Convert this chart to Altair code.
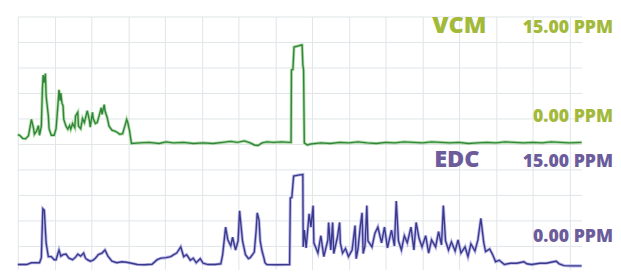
import altair as alt
import pandas as pd

# time axis in minutes (grid every 10), values in ppm
vcm_t = [0.0, 0.5, 1.3, 2.1, 2.9, 3.7, 4.3, 4.5, 5.1, 5.6, 5.9, 6.4, 6.7, 6.9, 7.2, 7.5, 7.7, 8.3, 8.5, 9.1,
         9.9, 10.4, 10.9, 11.2, 11.5, 11.7, 12.0, 12.3, 12.5, 13.1, 13.6, 14.1, 14.4, 14.9, 15.5, 15.7, 16.3, 16.5,
         17.1, 17.6, 18.1, 18.7, 18.9, 19.5, 19.7, 20.3, 20.5, 21.1, 21.6, 22.1, 22.7, 22.9, 23.5, 23.7, 24.3,
         24.8, 25.6, 26.4, 27.2, 27.7, 28.5, 29.1, 29.6, 29.9, 30.4, 30.7, 30.9,
         33.1, 35.7, 38.4, 40.3, 42.4, 45.1, 47.7, 50.4, 53.1, 55.7, 57.9, 59.7, 61.6, 63.2, 64.3, 65.3, 66.4,
         67.7, 69.6, 71.7, 73.9, 74.3, 74.4, 74.8, 75.1, 76.1, 77.1, 77.3, 77.5, 77.7, 77.9, 78.7, 79.7, 82.4,
         85.0, 87.5, 90.0, 92.5, 95.0, 97.5, 100.0, 102.5, 105.0, 107.5, 110.0, 112.5, 115.0, 117.5, 120.0,
         122.5, 125.0, 127.5, 130.0, 132.5, 135.0, 137.5, 140.0, 142.5, 145.0, 147.5, 150.0, 153.3]
vcm_v = [1.8, 1.7, 1.1, 1.0, 1.6, 4.8, 3.0, 1.9, 2.5, 3.6, 1.7, 3.5, 11.0, 13.5, 12.0, 13.8, 9.4, 5.5, 3.0, 1.7,
         1.7, 3.0, 7.5, 10.6, 8.5, 10.0, 8.0, 7.5, 4.8, 3.5, 2.9, 3.6, 2.9, 4.0, 3.2, 5.5, 6.2, 3.5,
         3.0, 5.0, 4.2, 6.0, 6.5, 4.5, 3.3, 6.2, 5.0, 4.0, 4.2, 5.5, 7.1, 5.8, 7.7, 6.5, 5.2,
         3.5, 2.7, 2.5, 2.2, 1.9, 2.0, 3.5, 4.8, 4.2, 2.5, 1.0, 0.1,
         0.2, 0.3, 0.1, 0.4, 0.2, 0.3, 0.1, 0.2, 0.1, 0.3, 0.5, 0.3, 0.6, 0.2, -0.2, -0.3, 0.2,
         0.4, 0.3, 0.4, 0.3, 0.3, 14.5, 14.6, 19.0, 19.2, 19.4, 19.4, 15.5, 14.5, 0.2, -0.2, 0.0, 0.2,
         0.1, 0.3, 0.2, 0.4, 0.2, 0.1, 0.3, 0.2, 0.4, 0.3, 0.2, 0.4, 0.3, 0.2, 0.3,
         0.1, 0.2, 0.3, 0.2, 0.4, 0.3, 0.2, 0.3, 0.2, 0.4, 0.3, 0.2, 0.3]

edc_t = [0.0, 0.5, 2.4, 3.7, 5.9, 6.4, 6.8, 7.2, 7.7, 8.3, 9.1, 9.9, 10.4, 11.2, 11.7, 12.3, 13.1, 13.9, 14.9,
         15.7, 16.3, 17.1, 17.9, 18.4, 18.9, 19.7, 20.5, 21.1, 21.9, 22.9, 23.7, 24.5, 25.6, 26.9, 28.3, 29.6,
         30.9, 32.5, 34.4, 36.5, 37.9, 38.9, 40.3, 41.6, 42.4, 43.2, 44.3, 45.1, 45.9, 46.9, 47.7, 48.5, 49.6,
         50.4, 51.7, 53.6, 55.2, 55.7, 56.5, 57.1, 57.9, 58.4, 59.2, 59.9, 60.3, 61.1, 61.9, 62.7, 63.2, 64.3,
         64.8, 65.1, 65.6, 65.9, 66.4, 66.9, 67.2, 67.7, 70.4, 73.9, 74.1, 74.5, 75.0, 76.3, 77.5, 77.6, 77.9,
         78.4, 79.2, 79.7, 80.3, 80.5, 81.6, 82.4, 83.2, 84.3, 84.5, 85.1, 85.6, 85.9, 86.9, 87.5, 87.7, 88.3,
         89.1, 89.9, 90.9, 91.7, 92.0, 92.5, 93.1, 93.6, 93.9, 94.4, 94.9, 95.2, 96.3, 97.1, 97.9, 98.9, 99.7,
         100.5, 101.6, 102.4, 102.9, 103.5, 104.3, 105.1, 105.9, 106.9, 107.7, 108.3, 109.1, 109.9, 110.9,
         111.7, 112.5, 113.6, 114.4, 115.2, 115.7, 116.3, 117.1, 117.9, 118.9, 119.7, 120.5, 121.6, 122.4,
         123.2, 124.3, 125.1, 125.9, 126.7, 127.2, 128.3, 129.1, 129.9, 130.9, 132.3, 133.9, 135.7, 137.6,
         138.4, 139.7, 141.9, 143.7, 145.6, 146.4, 147.2, 148.5, 150.4, 153.3]
edc_v = [1.35, 1.35, 1.35, 1.7, 1.7, 2.7, 12.3, 12.0, 5.6, 2.9, 2.9, 2.3, 2.3, 4.2, 3.0, 3.3, 3.4, 2.6, 2.3,
         2.8, 3.4, 3.0, 3.6, 2.6, 2.3, 2.0, 2.2, 2.6, 3.3, 3.6, 4.2, 3.0, 2.0, 1.7, 1.9, 1.8,
         1.6, 1.35, 1.3, 1.4, 2.3, 2.6, 2.7, 2.9, 3.3, 3.6, 4.8, 2.9, 3.3, 2.2, 2.6, 1.7, 2.5,
         1.6, 1.35, 1.35, 1.5, 3.3, 8.7, 6.2, 5.0, 6.7, 4.2, 6.0, 11.9, 6.0, 3.3, 2.5, 2.7, 3.8,
         8.0, 11.5, 10.0, 6.0, 4.0, 2.7, 1.7, 1.35, 1.3, 1.35, 14.4, 14.5, 18.7, 18.9, 19.0, 4.8, 8.1,
         4.6, 11.3, 8.7, 12.9, 5.6, 3.6, 7.0, 2.9, 6.2, 9.6, 4.2, 9.6, 3.5, 6.7, 9.6, 5.6, 3.6,
         4.5, 2.9, 4.2, 9.0, 2.5, 4.4, 8.7, 11.5, 3.5, 5.0, 12.9, 6.0, 4.8, 7.5, 8.7, 5.6, 8.7,
         4.6, 8.1, 5.0, 13.8, 6.0, 4.2, 7.0, 5.6, 8.7, 4.2, 9.6, 6.5, 4.8, 7.0,
         3.6, 6.2, 4.8, 7.8, 5.2, 12.9, 6.0, 4.2, 5.8, 4.0, 6.2, 3.6, 4.8, 2.9,
         5.4, 4.0, 6.2, 10.4, 5.6, 3.9, 4.4, 3.3, 1.9, 2.2, 1.35, 1.6, 1.6, 1.9,
         1.5, 1.35, 1.6, 1.6, 1.9, 2.0, 1.5, 1.15, 1.1, 1.1]

grid_ticks_x = [0, 10, 20, 30, 40, 50, 60, 70, 80, 90, 100, 110, 120, 130, 140, 150]
grid_ticks_y = [5, 10, 15, 20, 25, 30, 35, 40, 45, 50]

vcm = pd.DataFrame({"t": vcm_t, "ppm": vcm_v})
edc = pd.DataFrame({"t": edc_t, "ppm": edc_v})

xs = alt.X("t:Q", scale=alt.Scale(domain=[0, 153.3], nice=False, zero=False),
           axis=alt.Axis(values=grid_ticks_x, grid=True, labels=False, ticks=False, domain=False,
                         title=None, gridColor="#dfe4e8", gridWidth=1))

y_edc = alt.Y("ppm:Q", scale=alt.Scale(domain=[0.385, 50], nice=False, zero=False),
              axis=alt.Axis(values=grid_ticks_y, grid=True, labels=False, ticks=False, domain=False,
                            title=None, gridColor="#dfe4e8", gridWidth=1))
y_vcm = alt.Y("ppm:Q", scale=alt.Scale(domain=[-24.615, 25], nice=False, zero=False), axis=None)

edc_halo = alt.Chart(edc).mark_line(color="#aeaae4", strokeWidth=3.2, opacity=0.85).encode(x=xs, y=y_edc)
edc_line = alt.Chart(edc).mark_line(color="#3a3a8c", strokeWidth=1.4).encode(x=xs, y=y_edc)
vcm_halo = alt.Chart(vcm).mark_line(color="#a6d69b", strokeWidth=3.2, opacity=0.85).encode(x=xs, y=y_vcm)
vcm_line = alt.Chart(vcm).mark_line(color="#2f853a", strokeWidth=1.4).encode(x=xs, y=y_vcm)

edc_layer = alt.layer(edc_halo, edc_line)
vcm_layer = alt.layer(vcm_halo, vcm_line)

GREEN = "#a3b93a"
PURPLE = "#6c5c9b"
one = alt.Data(values=[{}])

def label(text, x, y, color, size):
    return alt.Chart(one).mark_text(text=text, align="right", baseline="alphabetic", font="Open Sans",
                                    fontWeight=800, fontSize=size, color=color).encode(
        x=alt.value(x), y=alt.value(y))

texts = [
    label("VCM", 478, 17, GREEN, 24),
    label("15.00 PPM", 607, 17, GREEN, 18),
    label("0.00 PPM", 607, 108, GREEN, 18),
    label("EDC", 471, 153, PURPLE, 24),
    label("15.00 PPM", 607, 153, PURPLE, 18),
    label("0.00 PPM", 607, 230, PURPLE, 18),
]

chart = alt.layer(edc_layer, vcm_layer, *texts).resolve_scale(y="independent").properties(
    width=575, height=258, padding={"left": 3, "top": 4, "right": 0, "bottom": 0},
    background="white"
).configure_view(strokeWidth=0)

chart.save("out.html", embed_options={"renderer": "svg", "actions": False})
